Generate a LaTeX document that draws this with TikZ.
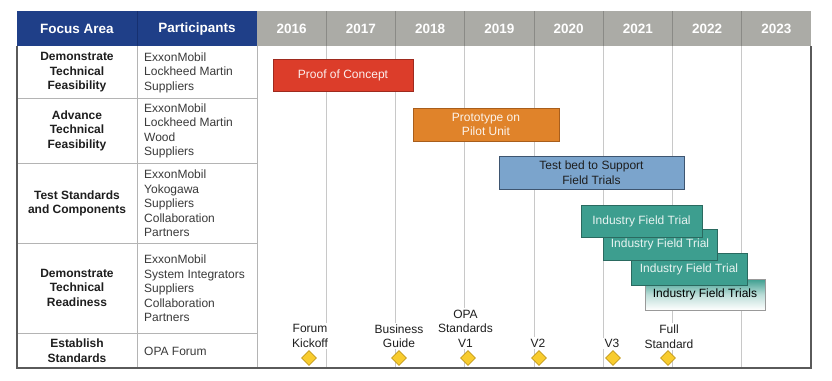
\documentclass[tikz,border=0pt]{standalone}
\usepackage{fontspec}
\setmainfont{Liberation Sans}
\usetikzlibrary{shapes.geometric}
\definecolor{hdrblue}{HTML}{1F3F88}
\definecolor{hdrblueline}{HTML}{163070}
\definecolor{hdrgray}{HTML}{ABABA6}
\definecolor{hdrgrayline}{HTML}{8A8A86}
\definecolor{gridgray}{HTML}{C8C8C8}
\definecolor{cellgray}{HTML}{B4B4B4}
\definecolor{framegray}{HTML}{5A5A5A}
\definecolor{pocred}{HTML}{DC3D2A}
\definecolor{pocredline}{HTML}{9E2A1E}
\definecolor{protoorange}{HTML}{E0832A}
\definecolor{protoorangeline}{HTML}{A85E1C}
\definecolor{testblue}{HTML}{7BA4CC}
\definecolor{testblueline}{HTML}{3E5570}
\definecolor{trialteal}{HTML}{3D9E8F}
\definecolor{trialtealline}{HTML}{2A6A60}
\definecolor{msgold}{HTML}{F8CC2E}
\definecolor{msgoldline}{HTML}{C49A1A}
\definecolor{bodytext}{HTML}{1E1E1E}
\definecolor{partext}{HTML}{3A3A3A}
\tikzset{
  hdrtext/.style={text=white, font=\fontsize{13.5}{16}\selectfont\bfseries, inner sep=0pt},
  focustext/.style={text=bodytext, font=\fontsize{12}{14.5}\selectfont\bfseries, align=center, inner sep=0pt},
  parttext/.style={text=partext, font=\fontsize{12}{14.5}\selectfont, align=left, anchor=west, inner sep=0pt},
  bar/.style={rectangle, line width=0.8pt, font=\fontsize{12}{14.5}\selectfont, align=center, inner sep=0pt},
  milestone/.style={diamond, aspect=1, fill=msgold, draw=msgoldline, line width=0.6pt, minimum width=15pt, minimum height=15pt, inner sep=0pt},
  mslabel/.style={fill=white, text=bodytext, font=\fontsize{12}{14.5}\selectfont, align=center, inner sep=1.5pt}
}
\begin{document}
\begin{tikzpicture}[x=1pt,y=-1pt]
\useasboundingbox (0,0) rectangle (832,380);
\fill[white] (0,0) rectangle (832,380);
% header backgrounds
\fill[hdrblue] (17,11) rectangle (257,46);
\fill[hdrgray] (257,11) rectangle (811,46);
\draw[hdrblueline, line width=0.8pt] (137,11) -- (137,46);
\foreach \i in {1,...,7} \draw[hdrgrayline, line width=0.8pt] ({257+69.25*\i},11) -- ({257+69.25*\i},46);
% body grid lines
\foreach \i in {1,...,7} \draw[gridgray, line width=1pt] ({257+69.25*\i},46) -- ({257+69.25*\i},368);
% table cell lines
\foreach \yy in {98,163,243,333} \draw[cellgray, line width=0.8pt] (17,\yy) -- (257,\yy);
\draw[cellgray, line width=0.8pt] (137,46) -- (137,368);
\draw[cellgray, line width=0.8pt] (257,46) -- (257,368);
% outer frame
\draw[framegray, line width=1.1pt] (17,46) -- (17,368) -- (811,368) -- (811,46);
% header text
\node[hdrtext] (hfocus) at (77,29) {Focus Area};
\node[hdrtext] (hpart) at (197,29) {Participants};
\foreach \yr [count=\i from 0] in {2016,2017,2018,2019,2020,2021,2022,2023}
  \node[hdrtext] (y\yr) at ({257+69.25*\i+34.6},29) {\yr};
% focus areas
\node[focustext] (f1) at (77,72.5) {Demonstrate\\Technical\\Feasibility};
\node[focustext] (f2) at (77,130.5) {Advance\\Technical\\Feasibility};
\node[focustext] (f3) at (77,203.5) {Test Standards\\and Components};
\node[focustext] (f4) at (77,287.5) {Demonstrate\\Technical\\Readiness};
\node[focustext] (f5) at (77,350.5) {Establish\\Standards};
% participants
\node[parttext] (p1) at (144,72.5) {ExxonMobil\\Lockheed Martin\\Suppliers};
\node[parttext] (p2) at (144,131) {ExxonMobil\\Lockheed Martin\\Wood\\Suppliers};
\node[parttext] (p3) at (144,203.5) {ExxonMobil\\Yokogawa\\Suppliers\\Collaboration\\Partners};
\node[parttext] (p4) at (144,288.5) {ExxonMobil\\System Integrators\\Suppliers\\Collaboration\\Partners};
\node[parttext] (p5) at (144,351) {OPA Forum};
% bars
\node[bar, fill=pocred, draw=pocredline, text=white!92!pocred, minimum width=140pt, minimum height=32pt] (poc) at (343,75) {Proof of Concept};
\node[bar, fill=protoorange, draw=protoorangeline, text=white!90!protoorange, minimum width=146pt, minimum height=33pt] (proto) at (486,124.5) {Prototype on\\Pilot Unit};
\node[bar, fill=testblue, draw=testblueline, text=bodytext, minimum width=185pt, minimum height=33pt] (test) at (591.5,172.5) {Test bed to Support\\Field Trials};
\node[bar, top color=trialteal, bottom color=white, middle color=trialteal!35!white, draw=gray!80, text=black, minimum width=120pt, minimum height=31pt] (ift4) at (705,294.5) {Industry Field Trials};
\node[bar, fill=trialteal, draw=trialtealline, text=white!88!trialteal, minimum width=116pt, minimum height=32pt] (ift3) at (689,269) {Industry Field Trial};
\node[bar, fill=trialteal, draw=trialtealline, text=white!88!trialteal, minimum width=114pt, minimum height=31pt] (ift2) at (660,244.5) {Industry Field Trial};
\node[bar, fill=trialteal, draw=trialtealline, text=white!88!trialteal, minimum width=121pt, minimum height=32pt] (ift1) at (641.5,221) {Industry Field Trial};
% milestone labels
\node[mslabel] (l1) at (310,336) {Forum\\Kickoff};
\node[mslabel] (l2) at (399,336) {Business\\Guide};
\node[mslabel] (l3) at (465.5,328.5) {OPA\\Standards\\V1};
\node[mslabel] (l4) at (538,343) {V2};
\node[mslabel] (l5) at (612,343.5) {V3};
\node[mslabel] (l6) at (669,336.5) {Full\\Standard};
% milestones
\node[milestone] (m1) at (309,358) {};
\node[milestone] (m2) at (399,358) {};
\node[milestone] (m3) at (468,358) {};
\node[milestone] (m4) at (539,358) {};
\node[milestone] (m5) at (613,358) {};
\node[milestone] (m6) at (668,358) {};
\end{tikzpicture}
\end{document}
